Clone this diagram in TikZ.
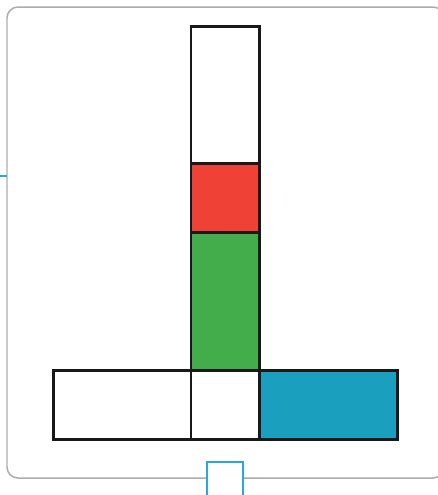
\documentclass[tikz,border=0pt]{standalone}
\usepackage{xcolor}
\usepackage{tikz}
\usetikzlibrary{positioning}
\definecolor{cellred}{RGB}{239,65,54}
\definecolor{cellgreen}{RGB}{66,173,74}
\definecolor{cellblue}{RGB}{26,160,190}
\definecolor{framegray}{RGB}{172,172,172}
\definecolor{markblue}{RGB}{40,170,215}
\tikzset{
  cell/.style={
    rectangle,
    draw=black!90,
    line width=1.7pt,
    minimum width=1.38cm,
    minimum height=1.38cm,
    inner sep=0pt,
    outer sep=0pt,
    fill=white
  },
  widecell/.style={
    cell,
    minimum width=2.76cm
  },
  tallcell/.style={
    cell,
    minimum height=2.76cm
  }
}

\begin{document}
\begin{tikzpicture}[x=0.02cm,y=-0.02cm]
\useasboundingbox (0,0) rectangle (438,495);
\begin{scope}
\clip (0,0) rectangle (438,495);
% frame
\draw[framegray, line width=0.85pt, rounded corners=0.22cm] (7,7) rectangle (444,478);
\draw[markblue, line width=1.1pt] (0,176) -- (7,176);
\node[rectangle, draw=markblue, line width=1.1pt, fill=white, minimum width=0.73cm, minimum height=0.8cm, inner sep=0pt, anchor=north] (tab) at (225,461) {};
\end{scope}

% column
\node[tallcell] (top) at (225.5,95) {};
\node[cell, fill=cellred, below=0pt of top] (red) {};
\node[tallcell, fill=cellgreen, below=0pt of red] (green) {};

% bottom row
\node[cell, below=0pt of green] (mid) {};
\node[widecell, left=0pt of mid] (left) {};
\node[widecell, fill=cellblue, right=0pt of mid] (blue) {};
\end{tikzpicture}
\end{document}
